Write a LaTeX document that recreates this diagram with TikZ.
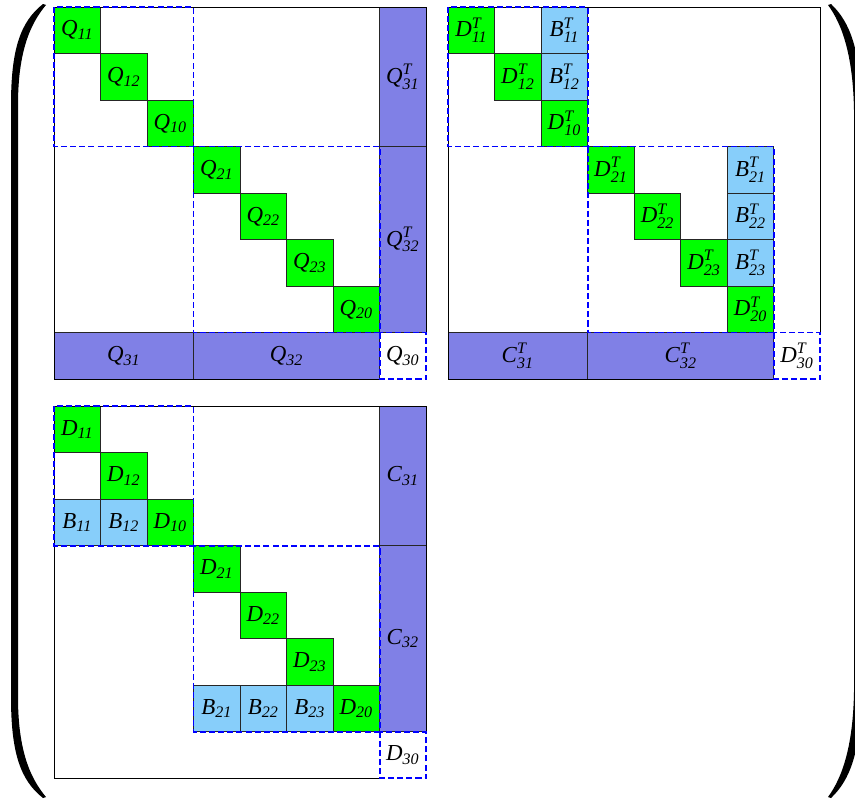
\documentclass[tikz,border=0pt]{standalone}
\usepackage{amsmath}
\usepackage{fontspec}
\setmainfont{Liberation Serif}
\usetikzlibrary{positioning}

\definecolor{diagG}{RGB}{0,255,0}
\definecolor{offB}{RGB}{135,206,250}
\definecolor{borderP}{RGB}{128,128,230}

% block labels: X_{ij} and X^T_{ij}
\newcommand{\lb}[2]{\textit{#1}$_{\textit{#2}}$}
\newcommand{\lbt}[2]{\textit{#1}$^{\textit{T}}_{\textit{#2}}$}

\begin{document}
\begin{tikzpicture}[x=1cm, y=-1cm,
  cellbox/.style={draw=black!85, line width=0.5pt, minimum size=1cm, inner sep=0pt,
    font=\fontsize{14}{16}\selectfont},
  dcell/.style={cellbox, fill=diagG},
  bcell/.style={cellbox, fill=offB},
  pbar/.style={cellbox, fill=borderP},
  ecell/.style={cellbox, draw=none},
  outer/.style={line width=0.5pt},
  blockline/.style={draw=blue, line width=1.1pt, dash pattern=on 3.7pt off 1.9pt}]

% big parentheses, in pixel units
\begin{scope}[x=0.0215054cm, y=-0.0215054cm]
  \useasboundingbox (0,0) rectangle (855,799);
  \clip (0,0) rectangle (855,799);
  \fill (43,4) .. controls (20,22) and (11,50) .. (11,105) -- (11,697)
    .. controls (11,752) and (20,780) .. (43,798) -- (46,797)
    .. controls (30,778) and (18,750) .. (18,697) -- (18,105)
    .. controls (18,52) and (30,24) .. (46,5) -- cycle;
  \fill (828,5) .. controls (842,24) and (853,55) .. (854,110) -- (854,692)
    .. controls (853,747) and (842,778) .. (828,797) -- (831,798)
    .. controls (850,780) and (861,752) .. (861,692) -- (861,110)
    .. controls (861,50) and (850,22) .. (831,4) -- cycle;
\end{scope}

% Q and its transpose
\begin{scope}[shift={(1.1613,0.1505)}]
  \foreach \i/\s in {0/11,1/12,2/10,3/21,4/22,5/23,6/20}
    \node[dcell] (q\s) at (\i+0.5,\i+0.5) {\lb{Q}{\s}};
  \node[pbar, minimum height=3cm] (qt31) at (7.5,1.5) {\lbt{Q}{31}};
  \node[pbar, minimum height=4cm] (qt32) at (7.5,5) {\lbt{Q}{32}};
  \node[pbar, minimum width=3cm] (q31) at (1.5,7.5) {\lb{Q}{31}};
  \node[pbar, minimum width=4cm] (q32) at (5,7.5) {\lb{Q}{32}};
  \node[ecell] (q30) at (7.5,7.5) {\lb{Q}{30}};
  \draw[outer] (7,8) -- (0,8) -- (0,0) -- (8,0) -- (8,7);
  \draw[blockline] (0,0) rectangle (3,3);
  \draw[blockline] (3,3) rectangle (7,7);
  \draw[blockline] (7,7) rectangle (8,8);
\end{scope}

% transposed factor
\begin{scope}[shift={(9.6344,0.1505)}]
  \foreach \i/\s in {0/11,1/12,2/10,3/21,4/22,5/23,6/20}
    \node[dcell] (dt\s) at (\i+0.5,\i+0.5) {\lbt{D}{\s}};
  \foreach \j/\s in {0/11,1/12}
    \node[bcell] (bt\s) at (2.5,\j+0.5) {\lbt{B}{\s}};
  \foreach \j/\s in {3/21,4/22,5/23}
    \node[bcell] (bt\s) at (6.5,\j+0.5) {\lbt{B}{\s}};
  \node[pbar, minimum width=3cm] (ct31) at (1.5,7.5) {\lbt{C}{31}};
  \node[pbar, minimum width=4cm] (ct32) at (5,7.5) {\lbt{C}{32}};
  \node[ecell] (dt30) at (7.5,7.5) {\lbt{D}{30}};
  \draw[outer] (7,8) -- (0,8) -- (0,0) -- (8,0) -- (8,7);
  \draw[blockline] (0,0) rectangle (3,3);
  \draw[blockline] (3,3) rectangle (7,7);
  \draw[blockline] (7,7) rectangle (8,8);
\end{scope}

% factor
\begin{scope}[shift={(1.1613,8.7312)}]
  \foreach \i/\s in {0/11,1/12,2/10,3/21,4/22,5/23,6/20}
    \node[dcell] (d\s) at (\i+0.5,\i+0.5) {\lb{D}{\s}};
  \foreach \i/\s in {0/11,1/12}
    \node[bcell] (b\s) at (\i+0.5,2.5) {\lb{B}{\s}};
  \foreach \i/\s in {3/21,4/22,5/23}
    \node[bcell] (b\s) at (\i+0.5,6.5) {\lb{B}{\s}};
  \node[pbar, minimum height=3cm] (c31) at (7.5,1.5) {\lb{C}{31}};
  \node[pbar, minimum height=4cm] (c32) at (7.5,5) {\lb{C}{32}};
  \node[ecell] (d30) at (7.5,7.5) {\lb{D}{30}};
  \draw[outer] (7,8) -- (0,8) -- (0,0) -- (8,0) -- (8,7);
  \draw[blockline] (0,0) rectangle (3,3);
  \draw[blockline] (3,3) rectangle (7,7);
  \draw[blockline] (7,7) rectangle (8,8);
\end{scope}
\end{tikzpicture}
\end{document}
